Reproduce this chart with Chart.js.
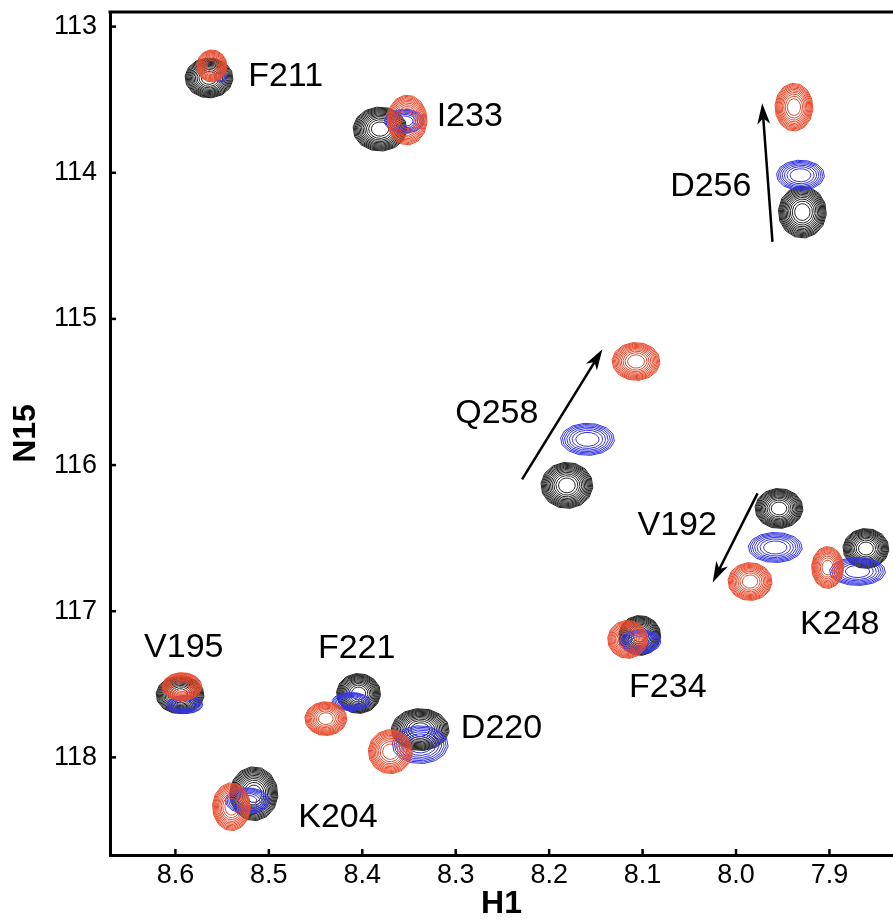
<!DOCTYPE html>
<html>
<head>
<meta charset="utf-8">
<script src="https://cdn.jsdelivr.net/npm/chart.js@4"></script>
<style>
  html, body { margin: 0; padding: 0; background: #fff; overflow: hidden; }
  canvas { display: block; }
</style>
</head>
<body>
<canvas id="hsqc" width="893" height="920"></canvas>
<script>
// residue assignments, same order as the peak arrays
const residues = ['F211', 'I233', 'D256', 'Q258', 'V192', 'K248', 'F234', 'V195', 'F221', 'D220', 'K204'];

// black spectrum: 1H / 15N shifts (ppm) and half line widths (ppm)
const blackH  = [8.564, 8.381, 7.929, 8.181, 7.954, 7.861, 8.103, 8.595, 8.404, 8.338, 8.516];
const blackN  = [113.351, 113.701, 114.269, 116.139, 116.297, 116.571, 117.166, 117.572, 117.563, 117.810, 118.249];
const blackWH = [0.0257, 0.0289, 0.0257, 0.0278, 0.0257, 0.0246, 0.0225, 0.0257, 0.0236, 0.0310, 0.0257];
const blackWN = [0.137, 0.151, 0.178, 0.158, 0.137, 0.137, 0.137, 0.130, 0.137, 0.144, 0.185];

// blue spectrum
const blueH  = [8.552, 8.355, 7.931, 8.159, 7.958, 7.870, 8.103, 8.590, 8.412, 8.338, 8.523];
const blueN  = [113.345, 113.647, 114.017, 115.824, 116.564, 116.728, 117.208, 117.639, 117.618, 117.913, 118.297];
const blueWH = [0.0064, 0.0214, 0.0257, 0.0289, 0.0289, 0.0300, 0.0225, 0.0193, 0.0203, 0.0300, 0.0236];
const blueWN = [0.034, 0.082, 0.103, 0.110, 0.103, 0.096, 0.082, 0.062, 0.062, 0.130, 0.089];

// red spectrum
const redH  = [8.561, 8.352, 7.938, 8.107, 7.985, 7.902, 8.116, 8.593, 8.439, 8.370, 8.540];
const redN  = [113.269, 113.639, 113.551, 115.291, 116.797, 116.701, 117.193, 117.516, 117.735, 117.961, 118.338];
const redWH = [0.0161, 0.0214, 0.0203, 0.0257, 0.0236, 0.0171, 0.0214, 0.0214, 0.0225, 0.0236, 0.0203];
const redWN = [0.110, 0.171, 0.164, 0.130, 0.130, 0.144, 0.130, 0.096, 0.116, 0.151, 0.164];

// where each assignment label sits (ppm)
const labelH = [8.482, 8.285, 8.027, 8.256, 8.063, 7.889, 8.073, 8.591, 8.406, 8.251, 8.426];
const labelN = [113.345, 113.619, 114.098, 115.646, 116.413, 117.092, 117.523, 117.249, 117.256, 117.804, 118.413];

// shift trajectories drawn as arrows
const arrowFromH = [7.961, 8.229, 7.977];
const arrowFromN = [114.473, 116.098, 116.194];
const arrowToH   = [7.972, 8.143, 8.025];
const arrowToN   = [113.525, 115.208, 116.803];

const xTicks = [8.6, 8.5, 8.4, 8.3, 8.2, 8.1, 8.0, 7.9];
const yTicks = [113, 114, 115, 116, 117, 118];

function peaks(hs, ns, wh, wn) {
  return hs.map((h, i) => ({ x: h, y: ns[i], wh: wh[i], wn: wn[i] }));
}

const FONT = '"Liberation Sans", Arial, Helvetica, sans-serif';

// ring outline: a coarse polygon, like a contour traced on a grid
function ring(ctx, cx, cy, rx, ry) {
  const steps = 14;
  ctx.beginPath();
  for (let s = 0; s <= steps; s++) {
    const t = (s / steps) * Math.PI * 2 + 0.1;
    const px = cx + rx * Math.cos(t);
    const py = cy + ry * Math.sin(t);
    if (s === 0) ctx.moveTo(px, py); else ctx.lineTo(px, py);
  }
  ctx.closePath();
  ctx.stroke();
}

// draws each peak as a stack of nested contour rings
const contours = {
  id: 'contours',
  afterDatasetsDraw(chart) {
    const { ctx, chartArea: a, scales: { x, y } } = chart;
    ctx.save();
    ctx.beginPath();
    ctx.rect(a.left, a.top, a.right - a.left, a.bottom - a.top);
    ctx.clip();
    chart.data.datasets.forEach((ds, di) => {
      const meta = chart.getDatasetMeta(di);
      ctx.strokeStyle = ds.contourColor;
      ctx.lineWidth = 1;
      meta.data.forEach((pt, i) => {
        const p = ds.data[i];
        const rx = Math.abs(x.getPixelForValue(p.x + p.wh) - pt.x);
        const ry = Math.abs(y.getPixelForValue(p.y + p.wn) - pt.y);
        const n = p.wh < 0.01 ? 2 : ds.levels;
        for (let k = 0; k < n; k++) {
          const f = Math.sqrt(1 - k / (n + 0.4));
          ring(ctx, pt.x, pt.y, rx * f, ry * f);
        }
      });
    });
    ctx.restore();

    // arrows
    ctx.save();
    ctx.strokeStyle = '#000';
    ctx.fillStyle = '#000';
    ctx.lineWidth = 2.5;
    arrowFromH.forEach((h, i) => {
      const x0 = x.getPixelForValue(h), y0 = y.getPixelForValue(arrowFromN[i]);
      const x1 = x.getPixelForValue(arrowToH[i]), y1 = y.getPixelForValue(arrowToN[i]);
      const ang = Math.atan2(y1 - y0, x1 - x0);
      const len = 21, half = 6.5, notch = 15;
      const bx = x1 - Math.cos(ang) * notch, by = y1 - Math.sin(ang) * notch;
      ctx.beginPath();
      ctx.moveTo(x0, y0);
      ctx.lineTo(bx, by);
      ctx.stroke();
      const cx = x1 - Math.cos(ang) * len, cy = y1 - Math.sin(ang) * len;
      const nx = -Math.sin(ang) * half, ny = Math.cos(ang) * half;
      ctx.beginPath();
      ctx.moveTo(x1, y1);
      ctx.lineTo(cx + nx, cy + ny);
      ctx.lineTo(bx, by);
      ctx.lineTo(cx - nx, cy - ny);
      ctx.closePath();
      ctx.fill();
    });

    // residue labels
    ctx.font = '34px ' + FONT;
    ctx.textAlign = 'center';
    ctx.textBaseline = 'middle';
    residues.forEach((r, i) => {
      ctx.fillText(r, x.getPixelForValue(labelH[i]), y.getPixelForValue(labelN[i]));
    });
    ctx.restore();
  },
  afterDraw(chart) {
    // top frame line and inward tick marks
    const { ctx, chartArea: a, scales: { x, y } } = chart;
    ctx.save();
    ctx.strokeStyle = '#000';
    ctx.lineWidth = 3;
    ctx.beginPath();
    ctx.moveTo(a.left - 1.5, a.top);
    ctx.lineTo(a.right, a.top);
    ctx.stroke();
    ctx.lineWidth = 2.5;
    xTicks.forEach(v => {
      const px = x.getPixelForValue(v);
      ctx.beginPath();
      ctx.moveTo(px, a.bottom);
      ctx.lineTo(px, a.bottom - 6);
      ctx.stroke();
    });
    yTicks.forEach(v => {
      const py = y.getPixelForValue(v);
      ctx.beginPath();
      ctx.moveTo(a.left, py);
      ctx.lineTo(a.left + 6, py);
      ctx.stroke();
    });
    ctx.restore();
  }
};

new Chart(document.getElementById('hsqc'), {
  type: 'scatter',
  data: {
    datasets: [
      { label: 'black', data: peaks(blackH, blackN, blackWH, blackWN), contourColor: '#222222', levels: 13, pointRadius: 0 },
      { label: 'blue', data: peaks(blueH, blueN, blueWH, blueWN), contourColor: '#3434e6', levels: 7, pointRadius: 0 },
      { label: 'red', data: peaks(redH, redN, redWH, redWN), contourColor: '#e84a2c', levels: 11, pointRadius: 0 }
    ]
  },
  options: {
    responsive: false,
    animation: false,
    events: [],
    layout: { padding: { top: 12, right: 0, left: 0, bottom: 0 } },
    plugins: { legend: { display: false }, tooltip: { enabled: false } },
    scales: {
      x: {
        type: 'linear',
        reverse: true,
        min: 7.832,
        max: 8.670,
        afterBuildTicks: s => { s.ticks = xTicks.map(v => ({ value: v })); },
        afterFit: s => { s.height = 65; s.paddingLeft = 0; s.paddingRight = 0; },
        grid: { display: false, drawTicks: false },
        border: { display: true, color: '#000', width: 3 },
        ticks: { color: '#000', font: { family: FONT, size: 27 }, padding: 4, maxRotation: 0, callback: v => v.toFixed(1) },
        title: { display: true, text: 'H1', color: '#000', font: { family: FONT, size: 32, weight: 'bold', lineHeight: 1 }, padding: { top: 0, bottom: 0 } }
      },
      y: {
        type: 'linear',
        reverse: true,
        min: 112.90,
        max: 118.668,
        afterBuildTicks: s => { s.ticks = yTicks.map(v => ({ value: v })); },
        afterFit: s => { s.width = 110; s.paddingTop = 0; s.paddingBottom = 0; },
        grid: { display: false, drawTicks: false },
        border: { display: true, color: '#000', width: 3 },
        ticks: { color: '#000', font: { family: FONT, size: 27 }, padding: 13, callback: v => String(v) },
        title: { display: true, text: 'N15', color: '#000', font: { family: FONT, size: 32, weight: 'bold', lineHeight: 1 }, padding: { top: 10, bottom: 0 } }
      }
    }
  },
  plugins: [contours]
});
</script>
</body>
</html>
